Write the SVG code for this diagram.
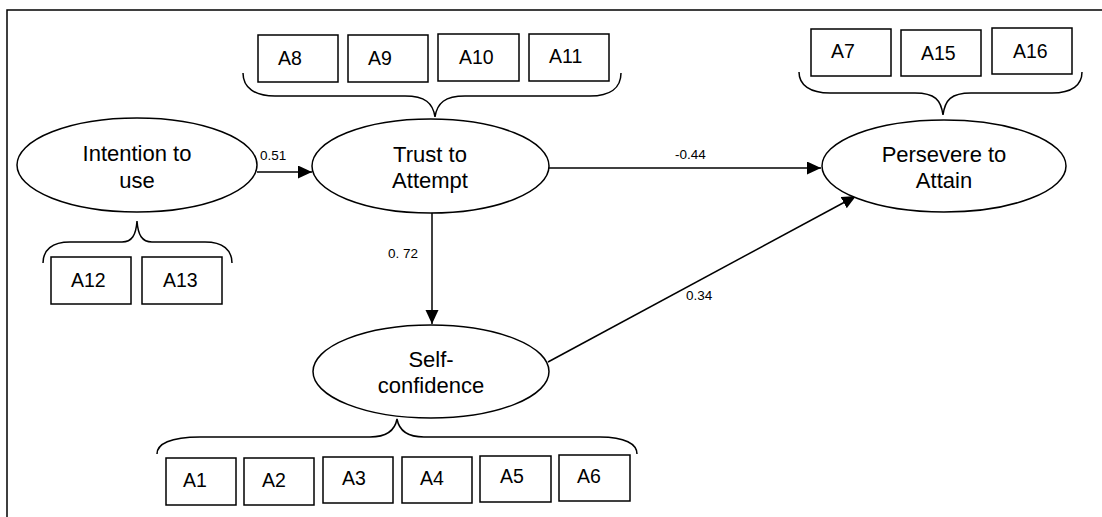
<svg xmlns="http://www.w3.org/2000/svg" width="1102" height="517" viewBox="0 0 1102 517">
<style>
.ln{fill:none;stroke:#000;stroke-width:1.5}
.el{fill:#fff;stroke:#000;stroke-width:1.5}
.bx{fill:#fff;stroke:#000;stroke-width:1.5}
.t{font-family:"Liberation Sans",Arial,sans-serif;font-size:22px;fill:#000;text-anchor:middle}
.bt{font-family:"Liberation Sans",Arial,sans-serif;font-size:19.5px;fill:#000}
.lb{font-family:"Liberation Sans",Arial,sans-serif;font-size:13.5px;fill:#000}
</style>
<defs>
<marker id="ah" markerUnits="userSpaceOnUse" markerWidth="15" markerHeight="14" refX="14" refY="6.5" orient="auto">
<path d="M0,0 L14,6.5 L0,13 z" fill="#000"/>
</marker>
</defs>
<rect width="1102" height="517" fill="#fff"/>
<path class="ln" d="M7,517 V10 H1102"/>

<g id="connectors">
<line class="ln" x1="257" y1="172" x2="312" y2="172" marker-end="url(#ah)"/>
<line class="ln" x1="549" y1="168" x2="821" y2="168" marker-end="url(#ah)"/>
<line class="ln" x1="432" y1="212" x2="432" y2="324" marker-end="url(#ah)"/>
<line class="ln" x1="548" y1="362" x2="856" y2="196" marker-end="url(#ah)"/>
<text class="lb" x="260" y="160">0.51</text>
<text class="lb" x="675" y="159">-0.44</text>
<text class="lb" x="388" y="258">0. 72</text>
<text class="lb" x="686" y="300">0.34</text>
</g>

<g id="intention">
<ellipse class="el" cx="137" cy="165" rx="120" ry="47"/>
<text class="t" x="137" y="161">Intention to</text>
<text class="t" x="137" y="188">use</text>
</g>
<g id="trust">
<ellipse class="el" cx="430.5" cy="166" rx="118.5" ry="47"/>
<text class="t" x="430" y="162">Trust to</text>
<text class="t" x="430" y="188">Attempt</text>
</g>
<g id="persevere">
<ellipse class="el" cx="944" cy="166" rx="122" ry="46"/>
<text class="t" x="944" y="162">Persevere to</text>
<text class="t" x="944" y="188">Attain</text>
</g>
<g id="selfconfidence">
<ellipse class="el" cx="431" cy="371.5" rx="118" ry="46.5"/>
<text class="t" x="431" y="367">Self-</text>
<text class="t" x="431" y="393">confidence</text>
</g>

<g id="trust-items">
<path class="ln" d="M243,73 C243,88 255,96 275,96 H405 C425,96 433,103 435,117 C437,103 445,96 465,96 H590 C610,96 621,88 621,73"/>
<rect class="bx" x="258" y="35" width="80" height="47"/><text class="bt" x="278" y="65">A8</text>
<rect class="bx" x="348" y="35" width="80" height="47"/><text class="bt" x="368" y="65">A9</text>
<rect class="bx" x="438" y="34" width="81" height="47"/><text class="bt" x="459" y="64">A10</text>
<rect class="bx" x="529" y="34" width="80" height="47"/><text class="bt" x="549" y="63">A11</text>
</g>

<g id="persevere-items">
<path class="ln" d="M799,72 C799,85 810,93 830,93 H915 C935,93 941,100 943,115 C945,100 951,93 971,93 H1052 C1072,93 1082,85 1082,72"/>
<rect class="bx" x="811" y="29" width="80" height="47"/><text class="bt" x="831" y="58">A7</text>
<rect class="bx" x="901" y="30" width="80" height="46"/><text class="bt" x="921" y="60">A15</text>
<rect class="bx" x="992" y="28" width="80" height="46"/><text class="bt" x="1013" y="58">A16</text>
</g>

<g id="intention-items">
<path class="ln" d="M43,263 C43,250 52,242 70,242 H122 C132,242 136,235 137,221 C138,235 142,242 152,242 H205 C223,242 232,250 232,263"/>
<rect class="bx" x="51" y="257" width="80" height="47"/><text class="bt" x="71" y="287">A12</text>
<rect class="bx" x="142" y="257" width="80" height="47"/><text class="bt" x="163" y="287">A13</text>
</g>

<g id="selfconfidence-items">
<path class="ln" d="M157,454 C157,444 170,437 200,437 H370 C388,437 395,430 397,419 C399,430 406,437 424,437 H600 C625,437 637,444 637,454"/>
<rect class="bx" x="166" y="458" width="70" height="47"/><text class="bt" x="183" y="487">A1</text>
<rect class="bx" x="244" y="458" width="70" height="47"/><text class="bt" x="262" y="487">A2</text>
<rect class="bx" x="323" y="457" width="70" height="46"/><text class="bt" x="342" y="485">A3</text>
<rect class="bx" x="402" y="457" width="70" height="46"/><text class="bt" x="420" y="485">A4</text>
<rect class="bx" x="480" y="456" width="71" height="46"/><text class="bt" x="500" y="483">A5</text>
<rect class="bx" x="559" y="455" width="71" height="46"/><text class="bt" x="577" y="483">A6</text>
</g>
</svg>
